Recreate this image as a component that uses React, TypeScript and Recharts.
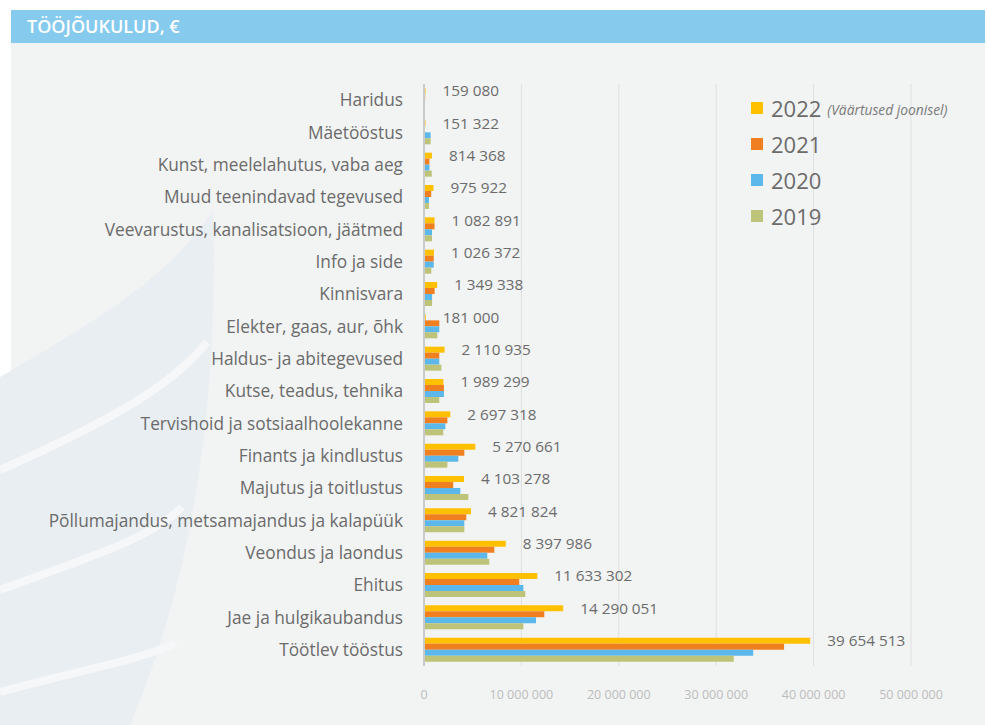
import { BarChart, Bar, XAxis, YAxis, CartesianGrid, LabelList } from "recharts";

const categories = [
  "Haridus",
  "Mäetööstus",
  "Kunst, meelelahutus, vaba aeg",
  "Muud teenindavad tegevused",
  "Veevarustus, kanalisatsioon, jäätmed",
  "Info ja side",
  "Kinnisvara",
  "Elekter, gaas, aur, õhk",
  "Haldus- ja abitegevused",
  "Kutse, teadus, tehnika",
  "Tervishoid ja sotsiaalhoolekanne",
  "Finants ja kindlustus",
  "Majutus ja toitlustus",
  "Põllumajandus, metsamajandus ja kalapüük",
  "Veondus ja laondus",
  "Ehitus",
  "Jae ja hulgikaubandus",
  "Töötlev tööstus",
];

const values2022 = [
  159080, 151322, 814368, 975922, 1082891, 1026372, 1349338, 181000, 2110935,
  1989299, 2697318, 5270661, 4103278, 4821824, 8397986, 11633302, 14290051, 39654513,
];
const values2021 = [
  120000, 100000, 560000, 740000, 1080000, 1000000, 1090000, 1570000, 1570000,
  2050000, 2400000, 4140000, 3000000, 4340000, 7220000, 9780000, 12350000, 36970000,
];
const values2020 = [
  90000, 680000, 560000, 510000, 820000, 1000000, 830000, 1570000, 1570000,
  2050000, 2190000, 3520000, 3730000, 4140000, 6500000, 10200000, 11500000, 33800000,
];
const values2019 = [
  80000, 680000, 800000, 510000, 820000, 750000, 830000, 1370000, 1780000,
  1570000, 1980000, 2400000, 4550000, 4140000, 6700000, 10400000, 10200000, 31800000,
];

const xTicks = [0, 10000000, 20000000, 30000000, 40000000, 50000000];

const series = [
  { key: "y2022", name: "2022", color: "#FFC000" },
  { key: "y2021", name: "2021", color: "#F0801F" },
  { key: "y2020", name: "2020", color: "#5CB8EA" },
  { key: "y2019", name: "2019", color: "#BDC479" },
];

const data = categories.map((name, i) => ({
  name,
  y2022: values2022[i],
  y2021: values2021[i],
  y2020: values2020[i],
  y2019: values2019[i],
}));

const FONT = "'Open Sans', sans-serif";

function spaced(v: number | string): string {
  return String(v).replace(/\B(?=(\d{3})+(?!\d))/g, " ");
}

function LegendBox() {
  return (
    <div style={{ position: "absolute", left: 751, top: 90, fontFamily: FONT }}>
      {series.map((s, i) => (
        <div key={s.key} style={{ display: "flex", alignItems: "center", height: 36 }}>
          <span style={{ width: 12, height: 12, background: s.color, marginRight: 8 }} />
          <span style={{ fontSize: 22, color: "#6b6b6b" }}>{s.name}</span>
          {i === 0 && (
            <span style={{ fontSize: 13.8, fontStyle: "italic", color: "#7a7a7a", marginLeft: 6, marginTop: 3 }}>
              (Väärtused joonisel)
            </span>
          )}
        </div>
      ))}
    </div>
  );
}

export default function App() {
  return (
    <div style={{ position: "absolute", left: 0, top: 0, width: 987, height: 725, background: "#FFFFFF", overflow: "hidden" }}>
      <div style={{ position: "absolute", left: 11, top: 43, width: 974, height: 682, background: "#F2F3F3" }} />
      <svg width={987} height={725} style={{ position: "absolute", left: 0, top: 0 }}>
        {/* faint logo swoosh in the background */}
        <path d="M 213 210 C 218 380, 200 560, 130 725 L 0 725 L 0 377 C 80 330, 170 280, 213 210 Z" fill="#E9EEF2" />
        <path d="M 0 470 C 90 430, 170 390, 207 342" stroke="#F5F7F9" strokeWidth={8} fill="none" />
        <path d="M 0 590 C 80 560, 150 540, 182 507" stroke="#F5F7F9" strokeWidth={8} fill="none" />
        <path d="M 0 692 C 80 670, 140 660, 176 643" stroke="#F5F7F9" strokeWidth={8} fill="none" />
      </svg>
      <div
        style={{
          position: "absolute",
          left: 11,
          top: 10,
          width: 974,
          height: 33,
          background: "#86CBEE",
          color: "#FFFFFF",
          fontFamily: FONT,
          fontWeight: 600,
          fontSize: 18,
          lineHeight: "33px",
          paddingLeft: 16,
          boxSizing: "border-box",
        }}
      >
        TÖÖJÕUKULUD, €
      </div>
      <div style={{ position: "absolute", left: 0, top: 0 }}>
        <BarChart
          width={987}
          height={725}
          data={data}
          layout="vertical"
          barSize={6}
          barGap={0}
          margin={{ top: 84, right: 76, bottom: 29, left: 0 }}
        >
          <CartesianGrid horizontal={false} stroke="#DEDFDF" strokeWidth={1} />
          <XAxis
            type="number"
            domain={[0, 50000000]}
            ticks={xTicks}
            interval={0}
            tickFormatter={spaced}
            axisLine={false}
            tickLine={false}
            tickMargin={18}
            height={30}
            tick={{ fill: "#BDBDBD", fontSize: 12.5, fontFamily: FONT }}
          />
          <YAxis
            type="category"
            dataKey="name"
            width={424}
            interval={0}
            tickLine={false}
            tickSize={0}
            tickMargin={21}
            axisLine={{ stroke: "#CACACA", strokeWidth: 2 }}
            tick={{ fill: "#6b6b6b", fontSize: 17.3, fontFamily: FONT }}
          />
          {series.map((s) => (
            <Bar key={s.key} dataKey={s.key} name={s.name} fill={s.color} isAnimationActive={false}>
              {s.key === "y2022" && (
                <LabelList
                  dataKey="y2022"
                  position="right"
                  offset={17}
                  formatter={spaced}
                  style={{ fill: "#6b6b6b", fontSize: 15.3, fontFamily: FONT }}
                />
              )}
            </Bar>
          ))}
        </BarChart>
      </div>
      <LegendBox />
    </div>
  );
}
